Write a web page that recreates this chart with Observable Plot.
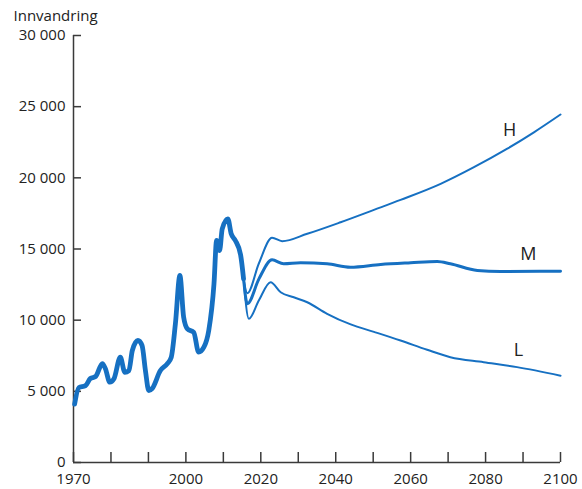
<!DOCTYPE html>
<html>
<head>
<meta charset="utf-8">
<script src="https://cdn.jsdelivr.net/npm/d3@7"></script>
<script src="https://cdn.jsdelivr.net/npm/@observablehq/plot@0.6"></script>
<style>
  html, body { margin: 0; padding: 0; background: #fff; }
  #chart { width: 582px; height: 489px; }
</style>
</head>
<body>
<div id="chart"></div>
<script>
// Historical immigration (thick line)
const histYears  = [1970.3, 1971.4, 1973.2, 1974.5, 1975.9, 1977.7, 1978.5, 1979.7, 1980.8, 1982.5, 1983.7, 1984.8, 1985.7, 1987.2, 1988.3, 1989.2, 1990.1, 1991.0, 1993.2, 1995.0, 1996.1, 1997.2, 1998.4, 1999.4, 2000.4, 2002.1, 2003.4, 2004.8, 2006.1, 2007.5, 2008.2, 2009.0, 2009.7, 2011.2, 2012.1, 2013.2, 2014.6, 2015.4];
const histValues = [4100, 5250, 5400, 5900, 6040, 6950, 6600, 5640, 5880, 7400, 6340, 6460, 7870, 8570, 8220, 6460, 5060, 5200, 6460, 6930, 7400, 9740, 13140, 10210, 9390, 9150, 7750, 8100, 9270, 12550, 15600, 14890, 16420, 17120, 16070, 15600, 14600, 12900];

// Projections: H (high), M (medium), L (low)
const projYears = {
  H: [2015.4, 2016.4, 2019.5, 2023.0, 2025.7, 2032.4, 2041.3, 2050.2, 2057.3, 2068.0, 2076.9, 2085.8, 2092.9, 2100],
  M: [2015.4, 2016.4, 2019.5, 2023.0, 2026.1, 2030.6, 2037.7, 2043.9, 2052.0, 2060.0, 2067.1, 2070.6, 2077.8, 2084.0, 2100],
  L: [2015.4, 2016.8, 2019.5, 2022.6, 2025.3, 2028.8, 2032.4, 2037.7, 2044.0, 2050.2, 2057.3, 2064.4, 2070.6, 2079.5, 2088.4, 2100]
};
const projValues = {
  H: [12900, 11890, 14000, 15790, 15550, 16070, 16880, 17750, 18450, 19580, 20750, 22050, 23200, 24450],
  M: [12900, 11150, 12900, 14240, 13960, 14030, 13960, 13720, 13910, 14030, 14120, 13960, 13490, 13420, 13440],
  L: [12900, 10100, 11400, 12670, 11960, 11610, 11260, 10450, 9700, 9180, 8570, 7920, 7400, 7050, 6700, 6100]
};
const seriesNames = ["H", "M", "L"];
const labelYears = {H: 2086.4, M: 2091.4, L: 2088.8};

const yTicks = [0, 5000, 10000, 15000, 20000, 25000, 30000];
const xTicks = d3.range(1970, 2101, 10);
const xTickLabels = [1970, 2000, 2020, 2040, 2060, 2080, 2100];
const yTitle = "Innvandring";

const blue = "#1670c2";
const axisColor = "#3a3a3a";
const W = 582, H = 489, mL = 73, mR = 22, mT = 35, mB = 27;
const frameW = W - mL - mR, frameH = H - mT - mB;

const hist = histYears.map((y, i) => ({year: y, value: histValues[i]}));
const proj = seriesNames.flatMap(s => projYears[s].map((y, i) => ({series: s, year: y, value: projValues[s][i]})));
const labels = seriesNames.map(s => {
  const ys = projYears[s], vs = projValues[s], t = labelYears[s];
  const i = ys.findIndex(y => y >= t);
  const f = (t - ys[i - 1]) / (ys[i] - ys[i - 1]);
  return {series: s, year: t, value: vs[i - 1] + f * (vs[i] - vs[i - 1])};
});

const fmt = d => d3.format(",")(d).replace(/,/g, " ");

const chart = Plot.plot({
  width: W,
  height: H,
  marginLeft: mL,
  marginRight: mR,
  marginTop: mT,
  marginBottom: mB,
  style: {fontFamily: "'Open Sans', sans-serif", fontSize: "15px", color: "#222", background: "#fff"},
  x: {domain: [1970, 2100]},
  y: {domain: [0, 30000]},
  marks: [
    Plot.axisY({ticks: yTicks, tickSize: 0, tickPadding: 8, tickFormat: fmt, label: null}),
    Plot.axisX({ticks: xTicks, tickSize: 0, tickPadding: 11, tickFormat: d => xTickLabels.includes(d) ? String(d) : "", label: null}),
    // inward ticks
    Plot.tickY(yTicks, {y: d => d, insetRight: frameW - 8, stroke: axisColor, strokeWidth: 1.5}),
    Plot.tickX(xTicks, {x: d => d, insetTop: frameH - 10, stroke: axisColor, strokeWidth: 1.5}),
    Plot.ruleX([1970], {stroke: axisColor, strokeWidth: 1.5}),
    Plot.ruleY([0], {stroke: axisColor, strokeWidth: 1.5}),
    Plot.text([yTitle], {frameAnchor: "top-left", dx: -60, dy: -25, textAnchor: "start", fill: "#222"}),
    Plot.line(proj.filter(d => d.series !== "M"), {x: "year", y: "value", z: "series", stroke: blue, strokeWidth: 2, curve: "monotone-x"}),
    Plot.line(proj.filter(d => d.series === "M"), {x: "year", y: "value", stroke: blue, strokeWidth: 3, curve: "monotone-x"}),
    Plot.line(hist, {x: "year", y: "value", stroke: blue, strokeWidth: 4.8, curve: "monotone-x", strokeLinejoin: "round", strokeLinecap: "round"}),
    Plot.text(labels, {x: "year", y: "value", text: "series", dy: -17, fontSize: 18, fill: "#222"})
  ]
});
document.getElementById("chart").appendChild(chart);
</script>
</body>
</html>
